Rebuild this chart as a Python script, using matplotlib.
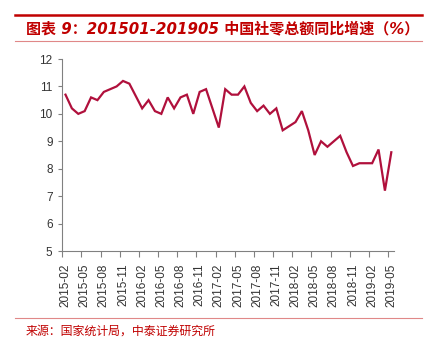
import matplotlib
matplotlib.use("Agg")
import matplotlib.pyplot as plt
from matplotlib.lines import Line2D

W, H = 427, 346

# monthly retail sales yoy growth (Jan merged into Feb, so no Jan points)
months = [
    "2015-02", "2015-03", "2015-04", "2015-05", "2015-06", "2015-07", "2015-08",
    "2015-09", "2015-10", "2015-11", "2015-12",
    "2016-02", "2016-03", "2016-04", "2016-05", "2016-06", "2016-07", "2016-08",
    "2016-09", "2016-10", "2016-11", "2016-12",
    "2017-02", "2017-03", "2017-04", "2017-05", "2017-06", "2017-07", "2017-08",
    "2017-09", "2017-10", "2017-11", "2017-12",
    "2018-02", "2018-03", "2018-04", "2018-05", "2018-06", "2018-07", "2018-08",
    "2018-09", "2018-10", "2018-11", "2018-12",
    "2019-02", "2019-03", "2019-04", "2019-05",
]
values = [
    10.7, 10.2, 10.0, 10.1, 10.6, 10.5, 10.8, 10.9, 11.0, 11.2, 11.1,
    10.2, 10.5, 10.1, 10.0, 10.6, 10.2, 10.6, 10.7, 10.0, 10.8, 10.9,
    9.5, 10.9, 10.7, 10.7, 11.0, 10.4, 10.1, 10.3, 10.0, 10.2, 9.4,
    9.7, 10.1, 9.4, 8.5, 9.0, 8.8, 9.0, 9.2, 8.6, 8.1, 8.2,
    8.2, 8.7, 7.2, 8.6,
]
tick_labels = [
    "2015-02", "2015-05", "2015-08", "2015-11", "2016-02", "2016-05",
    "2016-08", "2016-11", "2017-02", "2017-05", "2017-08", "2017-11",
    "2018-02", "2018-05", "2018-08", "2018-11", "2019-02", "2019-05",
]
yticks = [5, 6, 7, 8, 9, 10, 11, 12]

title = "图表 9：201501-201905 中国社零总额同比增速（%）"
source = "来源：国家统计局，中泰证券研究所"

RED = "#C00000"
LINE = "#B0103C"
GREY = "#808080"


def month_pos(m):
    y, mo = m.split("-")
    return (int(y) - 2015) * 12 + int(mo) - 2


def fx(px):
    return px / W


def fy(py):
    return 1 - py / H


fig = plt.figure(figsize=(W / 100, H / 100), dpi=100)

ax = fig.add_axes([fx(62.3), fy(251), fx(394.5) - fx(62.3), fy(59) - fy(251)])
xs = [month_pos(m) for m in months]
ax.plot(xs, values, color=LINE, lw=1.6, solid_joinstyle="miter")

ax.set_xlim(-0.5, 51.5)
ax.set_ylim(5, 12)
ax.set_yticks(yticks)
ax.set_yticklabels([str(v) for v in yticks], fontsize=8.5, color="#333333",
                   family="Liberation Sans")

tpos = [month_pos(m) for m in tick_labels]
ax.set_xticks(tpos)
ax.set_xticklabels(tick_labels, rotation=90, fontsize=8.5, color="#333333",
                   family="Liberation Sans")
ax.set_xticks([p - 0.5 for p in tpos], minor=True)
ax.tick_params(axis="x", which="major", length=0, pad=9)
ax.tick_params(axis="x", which="minor", length=4, color=GREY, width=0.8)
ax.tick_params(axis="y", length=3, color=GREY, width=0.8, pad=4)

for s in ["top", "right"]:
    ax.spines[s].set_visible(False)
for s in ["left", "bottom"]:
    ax.spines[s].set_color(GREY)
    ax.spines[s].set_linewidth(0.8)

# header and footer decoration
fig.add_artist(Line2D([fx(15), fx(422)], [fy(14.7), fy(14.7)], color=RED, lw=1.8))
fig.add_artist(Line2D([fx(15), fx(422)], [fy(41.3), fy(41.3)], color="#E08888", lw=0.8))
fig.add_artist(Line2D([fx(15), fx(422)], [fy(317.5), fy(317.5)], color="#E08888", lw=0.8))

fig.text(fx(26), fy(29), title, color=RED, fontsize=10.8, fontweight="bold",
         fontstyle="italic", ha="left", va="center",
         family=["DejaVu Sans", "Noto Sans CJK SC"])
fig.text(fx(26), fy(331.5), source, color=RED, fontsize=8.6, ha="left", va="center",
         family=["Noto Sans CJK SC", "DejaVu Sans"])

fig.savefig("out.png", dpi=100)
